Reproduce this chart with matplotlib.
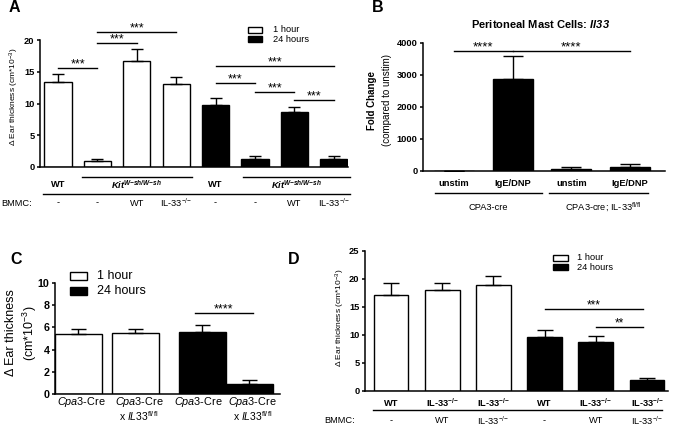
import matplotlib
matplotlib.use("Agg")
import matplotlib.pyplot as plt
from matplotlib.patches import Rectangle
from matplotlib.transforms import blended_transform_factory

plt.rcParams["font.family"] = ["Liberation Sans", "DejaVu Sans"]
plt.rcParams["mathtext.fontset"] = "custom"
plt.rcParams["mathtext.rm"] = "Liberation Sans"
plt.rcParams["mathtext.it"] = "Liberation Sans:italic"
plt.rcParams["mathtext.bf"] = "Liberation Sans:bold"
plt.rcParams["mathtext.bfit"] = "Liberation Sans:italic:bold"

W, H = 673, 426

# labels used in several panels
KIT = r"$\mathbfit{Kit}^{\mathbfit{W{-}sh/W{-}sh}}$"
KO = r"IL-33$^{{-}/{-}}$"
KO_B = r"IL-33$^{\mathbf{{-}/{-}}}$"
EAR = r"Δ Ear thickness (cm*10$^{-3}$)"

# ---------------- panel A ----------------
a_mean = [13.4, 1.0, 16.7, 13.1, 9.8, 1.2, 8.7, 1.2]
a_sem = [1.2, 0.3, 1.9, 1.0, 1.1, 0.6, 0.8, 0.5]
a_time = ["1 hour"] * 4 + ["24 hours"] * 4
a_mouse = ["WT", KIT, "WT", KIT]
a_bmmc = ["-", "-", "WT", KO, "-", "-", "WT", KO]
a_sig = [(0, 1, 15.6, "***"), (1, 2, 19.5, "***"), (1, 3, 21.2, "***"),
         (4, 7, 15.9, "***"), (4, 5, 13.2, "***"), (5, 6, 11.8, "***"),
         (6, 7, 10.5, "***")]

# ---------------- panel B ----------------
b_title = r"Peritoneal Mast Cells: $\mathbfit{Il33}$"
b_mean = [1, 2875, 52, 115]
b_sem = [0, 720, 85, 95]
b_treat = ["unstim", "IgE/DNP", "unstim", "IgE/DNP"]
b_group = ["CPA3-cre", r"CPA3-cre; IL-33$^{\mathrm{fl/fl}}$"]
b_sig = [(0, 1, 3750, "****"), (1, 3, 3750, "****")]

# ---------------- panel C ----------------
c_mean = [5.4, 5.5, 5.6, 0.9]
c_sem = [0.5, 0.4, 0.6, 0.35]
c_time = ["1 hour", "1 hour", "24 hours", "24 hours"]
c_line1 = [r"$\mathit{Cpa3}$-Cre"] * 4
c_line2 = ["", r"x $\mathit{IL33}^{\mathrm{fl/fl}}$", "", r"x $\mathit{IL33}^{\mathrm{fl/fl}}$"]
c_sig = [(2, 3, 7.3, "****")]

# ---------------- panel D ----------------
d_mean = [17.1, 18.0, 19.0, 9.6, 8.75, 1.95]
d_sem = [2.2, 1.2, 1.6, 1.3, 1.15, 0.3]
d_time = ["1 hour"] * 3 + ["24 hours"] * 3
d_mouse = ["WT", KO_B, KO_B, "WT", KO_B, KO_B]
d_bmmc = ["-", "WT", KO, "-", "WT", KO]
d_sig = [(3, 5, 14.6, "***"), (4, 5, 11.4, "**")]

FILL = {"1 hour": "white", "24 hours": "black"}

fig = plt.figure(figsize=(W / 100, H / 100), dpi=100)


def fx(px):
    return px / W


def fy(py):
    return 1 - py / H


def make_axes(box, xlim, ylim, yticks, fs):
    l, t, r, b = box
    ax = fig.add_axes([fx(l), fy(b), fx(r) - fx(l), fy(t) - fy(b)])
    ax.set_xlim(*xlim)
    ax.set_ylim(*ylim)
    ax.spines["top"].set_visible(False)
    ax.spines["right"].set_visible(False)
    ax.spines["left"].set_bounds(yticks[0], yticks[-1])
    ax.spines["left"].set_linewidth(1.1)
    ax.spines["bottom"].set_linewidth(1.1)
    ax.set_yticks(yticks)
    ax.set_xticks([])
    ax.tick_params(axis="y", direction="out", length=2.5, width=1.1, pad=1.5, labelsize=fs)
    for lab in ax.get_yticklabels():
        lab.set_fontweight("bold")
    ax.patch.set_visible(False)
    return ax


def draw_bars(ax, x, mean, sem, colors, width, cap):
    ax.bar(x, mean, width=width, color=colors, edgecolor="black", linewidth=1.0, zorder=2)
    ax.errorbar(x, mean, yerr=[[0] * len(mean), sem], fmt="none", ecolor="black",
                elinewidth=1.0, capsize=cap, capthick=1.0, zorder=3)


def sig(ax, x0, x1, y, stars, fs):
    ax.plot([x0, x1], [y, y], color="black", lw=1.0, clip_on=False)
    ax.annotate(stars, ((x0 + x1) / 2, y), xytext=(0, 0.5), textcoords="offset points",
                ha="center", va="baseline", fontsize=fs, annotation_clip=False)


def under_text(ax, x, py, s, fs, **kw):
    tr = blended_transform_factory(ax.transData, fig.transFigure)
    ax.text(x, fy(py), s, transform=tr, ha="center", va="center", fontsize=fs, clip_on=False, **kw)


def under_line(ax, x0, x1, py):
    tr = blended_transform_factory(ax.transData, fig.transFigure)
    ax.plot([x0, x1], [fy(py), fy(py)], transform=tr, color="black", lw=1.0, clip_on=False)


def legend(x, py, w, h, step, gap, fs):
    for i, lab in enumerate(["1 hour", "24 hours"]):
        top = py + i * step
        fig.add_artist(Rectangle((fx(x), fy(top + h)), w / W, h / H, transform=fig.transFigure,
                                 facecolor=FILL[lab], edgecolor="black", linewidth=1.0))
        fig.text(fx(x + w + gap), fy(top + h / 2), lab, va="center", fontsize=fs)


# ---- A
axA = make_axes((40, 20, 348, 167), (-0.457, 7.36), (0, 23.15), [0, 5, 10, 15, 20], 6.7)
xa = list(range(len(a_mean)))
draw_bars(axA, xa, a_mean, a_sem, [FILL[t] for t in a_time], 0.69, 4.3)
for x0, x1, y, s in a_sig:
    sig(axA, x0, x1, y, s, 9)
for i, s in enumerate(a_mouse):
    under_text(axA, [0, 2, 4, 6.04][i], 185, s, 6.7, fontweight="bold")
under_line(axA, 0.61, 3.4, 177)
under_line(axA, 4.7, 7.41, 177)
under_line(axA, -0.38, 7.41, 194)
for x, s in zip(xa, a_bmmc):
    under_text(axA, x, 203, s, 6.7)
fig.text(fx(1), fy(203), "BMMC:", va="center", fontsize=6.7)
fig.text(fx(14), fy(97), EAR, rotation=90, ha="center", va="center", fontsize=6)
legend(248, 27, 14, 6, 9, 11, 6.7)

# ---- B
axB = make_axes((423, 35, 665, 171), (-0.528, 3.595), (0, 4250), [0, 1000, 2000, 3000, 4000], 6.7)
xb = list(range(len(b_mean)))
draw_bars(axB, xb, b_mean, b_sem, ["black"] * 4, 0.68, 7)
for x0, x1, y, s in b_sig:
    sig(axB, x0, x1, y, s, 9.5)
for x, s in zip(xb, b_treat):
    under_text(axB, x, 183, s, 6.7, fontweight="bold")
under_line(axB, -0.32, 1.5, 193)
under_line(axB, 1.62, 3.3, 193)
under_text(axB, 0.58, 207, b_group[0], 6.7)
under_text(axB, 2.54, 207, b_group[1], 6.7)
fig.text(fx(541), fy(24), b_title, ha="center", va="center", fontsize=8, fontweight="bold")
fig.text(fx(372), fy(100), "Fold Change", rotation=90, ha="center", va="center",
         fontsize=7, fontweight="bold")
fig.text(fx(387), fy(100), "(compared to unstim)", rotation=90, ha="center", va="center", fontsize=7)

# ---- C
c_pos = [0, 1.21, 2.63, 3.64]
c_label_pos = [0.07, 1.29, 2.56, 3.71]
axC = make_axes((55, 275, 280, 394), (-0.5, 4.29), (0, 10.72), [0, 2, 4, 6, 8, 10], 7.7)
draw_bars(axC, c_pos, c_mean, c_sem, [FILL[t] for t in c_time], 1.0, 5.4)
for i0, i1, y, s in c_sig:
    sig(axC, c_pos[i0] - 0.15, c_pos[i1] + 0.07, y, s, 9)
for x, s1, s2 in zip(c_label_pos, c_line1, c_line2):
    under_text(axC, x, 402, s1, 7.8)
    if s2:
        under_text(axC, x, 416, s2, 7.5)
fig.text(fx(11), fy(333), "Δ Ear thickness", rotation=90, ha="center", va="center", fontsize=9)
fig.text(fx(30), fy(333), r"(cm*10$^{-3}$)", rotation=90, ha="center", va="center", fontsize=9)
legend(70, 272, 17, 8, 15, 10, 9)

# ---- D
axD = make_axes((365, 245, 668, 391), (-0.508, 5.41), (0, 26.07), [0, 5, 10, 15, 20, 25], 6.7)
xd = list(range(len(d_mean)))
draw_bars(axD, xd, d_mean, d_sem, [FILL[t] for t in d_time], 0.68, 6)
for x0, x1, y, s in d_sig:
    sig(axD, x0, x1 - 0.08, y, s, 8.5)
for x, s in zip(xd, d_mouse):
    under_text(axD, x, 403, s, 6.7, fontweight="bold")
under_line(axD, -0.35, 5.3, 410)
for x, s in zip(xd, d_bmmc):
    under_text(axD, x, 420.5, s, 6.7)
fig.text(fx(324), fy(420.5), "BMMC:", va="center", fontsize=6.7)
fig.text(fx(340), fy(318), EAR, rotation=90, ha="center", va="center", fontsize=6)
legend(553, 255, 15, 6, 9, 9, 6.7)

# panel letters
for s, x, y in [("A", 14, 7), ("B", 378, 8), ("C", 16, 259), ("D", 294, 259)]:
    fig.text(fx(x), fy(y), s, ha="center", va="center", fontsize=11.5, fontweight="bold")

fig.savefig("out.png", dpi=100)
